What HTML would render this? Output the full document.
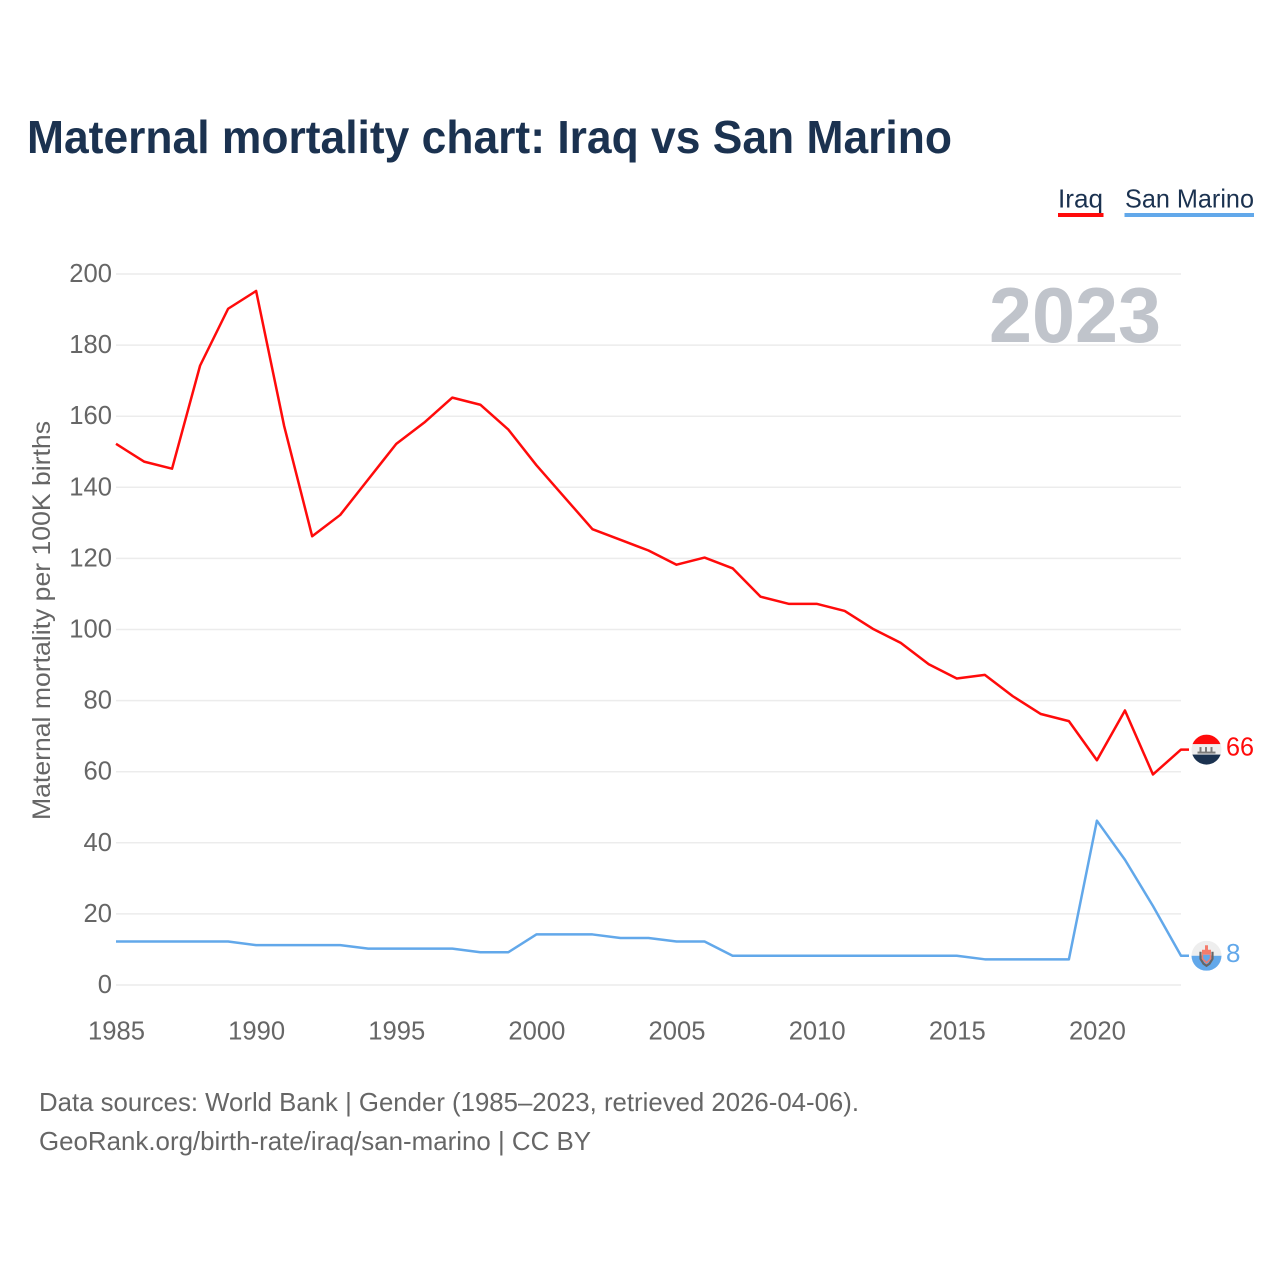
<!DOCTYPE html>
<html lang="en">
<head>
<meta charset="utf-8">
<title>Maternal mortality chart: Iraq vs San Marino</title>
<style>
html,body{margin:0;padding:0;background:#fff;width:1280px;height:1280px;overflow:hidden}
svg{display:block}
text{font-family:"Liberation Sans",sans-serif}
</style>
</head>
<body>
<svg id="chart" width="1280" height="1280" viewBox="0 0 1280 1280" xmlns="http://www.w3.org/2000/svg">
  <defs>
    <clipPath id="iraq-clip"><circle cx="0" cy="0" r="15"/></clipPath>
    <clipPath id="sm-clip"><circle cx="0" cy="0" r="15"/></clipPath>
  </defs>
  <text x="27" y="153" font-size="46" font-weight="700" fill="#1b3250" textLength="925" lengthAdjust="spacingAndGlyphs">Maternal mortality chart: Iraq vs San Marino</text>

  <g>
    <g>
      <text x="1058" y="207.500" font-size="26" fill="#1b3250" textLength="45" lengthAdjust="spacingAndGlyphs">Iraq</text>
      <rect x="1058" y="213" width="45.500" height="4" fill="#ff0b0b"/>
    </g>
    <g>
      <text x="1125" y="207.500" font-size="26" fill="#1b3250" textLength="129" lengthAdjust="spacingAndGlyphs">San Marino</text>
      <rect x="1124.500" y="213" width="129.500" height="4" fill="#62a8ea"/>
    </g>
  </g>

  <g id="grid"></g>
  <g id="y-axis"></g>
  <g id="x-axis"></g>

  <text transform="translate(50,620.500) rotate(-90)" text-anchor="middle" font-size="25" fill="#666666" textLength="399" lengthAdjust="spacingAndGlyphs">Maternal mortality per 100K births</text>

  <text x="1161" y="342" text-anchor="end" font-size="78" font-weight="700" fill="#c0c4cb" textLength="172" lengthAdjust="spacingAndGlyphs">2023</text>

  <g id="series"></g>
  <g id="ends"></g>

  <g>
    <text x="39" y="1111" font-size="26" fill="#666666" textLength="820" lengthAdjust="spacingAndGlyphs">Data sources: World Bank | Gender (1985–2023, retrieved 2026-04-06).</text>
    <text x="39" y="1150" font-size="26" fill="#666666" textLength="552" lengthAdjust="spacingAndGlyphs">GeoRank.org/birth-rate/iraq/san-marino | CC BY</text>
  </g>
</svg>
<script>
var years = [1985,1986,1987,1988,1989,1990,1991,1992,1993,1994,1995,1996,1997,1998,1999,2000,2001,2002,2003,2004,2005,2006,2007,2008,2009,2010,2011,2012,2013,2014,2015,2016,2017,2018,2019,2020,2021,2022,2023];
var iraqValues = [152,147,145,174,190,195,157,126,132,142,152,158,165,163,156,146,137,128,125,122,118,120,117,109,107,107,105,100,96,90,86,87,81,76,74,63,77,59,66];
var sanMarinoValues = [12,12,12,12,12,11,11,11,11,10,10,10,10,9,9,14,14,14,13,13,12,12,8,8,8,8,8,8,8,8,8,7,7,7,7,46,35,22,8];
var yTicks = [0,20,40,60,80,100,120,140,160,180,200];
var xTicks = [1985,1990,1995,2000,2005,2010,2015,2020];

var NS = 'http://www.w3.org/2000/svg';
function xScale(year){ return 116 + (year - 1985) * (1181 - 116) / 38; }
function yScale(v){ return 985 - v * (985 - 274) / 200; }
function lineY(v){ return yScale(v) - 0.8; }
function make(tag, attrs, parent){
  var el = document.createElementNS(NS, tag);
  for (var k in attrs) el.setAttribute(k, attrs[k]);
  parent.appendChild(el);
  return el;
}

var grid = document.getElementById('grid');
var yAxis = document.getElementById('y-axis');
var xAxis = document.getElementById('x-axis');
var seriesG = document.getElementById('series');
var ends = document.getElementById('ends');

yTicks.forEach(function(t){
  var line = make('line', {x1:116, x2:1181, y1:yScale(t), y2:yScale(t), stroke:'#ececec', 'stroke-width':1.5}, grid);
  
  
  var label = make('text', {x:112, y:yScale(t) + 8, 'text-anchor':'end', 'font-size':25.6, fill:'#666666'}, yAxis);
  label.textContent = String(t);
  
  
});

xTicks.forEach(function(t){
  var label = make('text', {x:xScale(t) + 0.5, y:1039.5, 'text-anchor':'middle', 'font-size':25.6, fill:'#666666'}, xAxis);
  label.textContent = String(t);
  
  
});

function pathFor(values){
  var pts = values.map(function(v, i){ return xScale(years[i]).toFixed(2) + ',' + lineY(v).toFixed(2); });
  pts.push((xScale(years[years.length - 1]) + 8).toFixed(2) + ',' + lineY(values[values.length - 1]).toFixed(2));
  return 'M' + pts.join('L');
}

var iraqLine = make('path', {d:pathFor(iraqValues), fill:'none', stroke:'#ff0b0b', 'stroke-width':2.5, 'stroke-linejoin':'round'}, seriesG);



var smLine = make('path', {d:pathFor(sanMarinoValues), fill:'none', stroke:'#62a8ea', 'stroke-width':2.5, 'stroke-linejoin':'round'}, seriesG);



var iraqLast = iraqValues[iraqValues.length - 1];
var smLast = sanMarinoValues[sanMarinoValues.length - 1];

/* Iraq end marker */
var iraqFlag = make('g', {transform:'translate(1206.5,' + lineY(iraqLast) + ')', 'clip-path':'url(#iraq-clip)'}, ends);


make('rect', {x:-15, y:-15, width:30, height:10, fill:'#ff0b0b'}, iraqFlag);
make('rect', {x:-15, y:-5.500, width:30, height:11, fill:'#eeeeee'}, iraqFlag);
make('rect', {x:-15, y:5, width:30, height:11, fill:'#1b3250'}, iraqFlag);
make('rect', {x:-9, y:2, width:18, height:2, fill:'#7a7a7a'}, iraqFlag);
make('rect', {x:-7, y:-2.500, width:2, height:5, fill:'#7a7a7a'}, iraqFlag);
make('rect', {x:-1.500, y:-2.500, width:2, height:5, fill:'#7a7a7a'}, iraqFlag);
make('rect', {x:4, y:-2.500, width:2, height:5, fill:'#7a7a7a'}, iraqFlag);

var iraqEnd = make('text', {x:1226, y:lineY(iraqLast) + 6, 'font-size':26, fill:'#ff0b0b', textLength:28, lengthAdjust:'spacingAndGlyphs'}, ends);
iraqEnd.textContent = String(iraqLast);



/* San Marino end marker */
var smFlag = make('g', {transform:'translate(1206.5,' + lineY(smLast) + ')', 'clip-path':'url(#sm-clip)'}, ends);


make('rect', {x:-15, y:-15, width:30, height:15, fill:'#eeeeee'}, smFlag);
make('rect', {x:-15, y:0, width:30, height:15, fill:'#62a8ea'}, smFlag);
make('path', {d:'M-6,-4 L-6,3 L-3,8 L0,10 L3,8 L6,3 L6,-4', fill:'none', stroke:'#666666', 'stroke-width':2.2}, smFlag);
make('rect', {x:-4.500, y:-6, width:9, height:5, fill:'#f47c6c'}, smFlag);
make('rect', {x:-1.500, y:-10.500, width:3, height:5, fill:'#f47c6c'}, smFlag);
make('path', {d:'M-4,-1 L-4,3 L0,7 L4,3 L4,-1', fill:'#62a8ea', stroke:'#f47c6c', 'stroke-width':1.500}, smFlag);

var smEnd = make('text', {x:1226, y:lineY(smLast) + 6, 'font-size':26, fill:'#62a8ea'}, ends);
smEnd.textContent = String(smLast);


</script>
</body>
</html>
